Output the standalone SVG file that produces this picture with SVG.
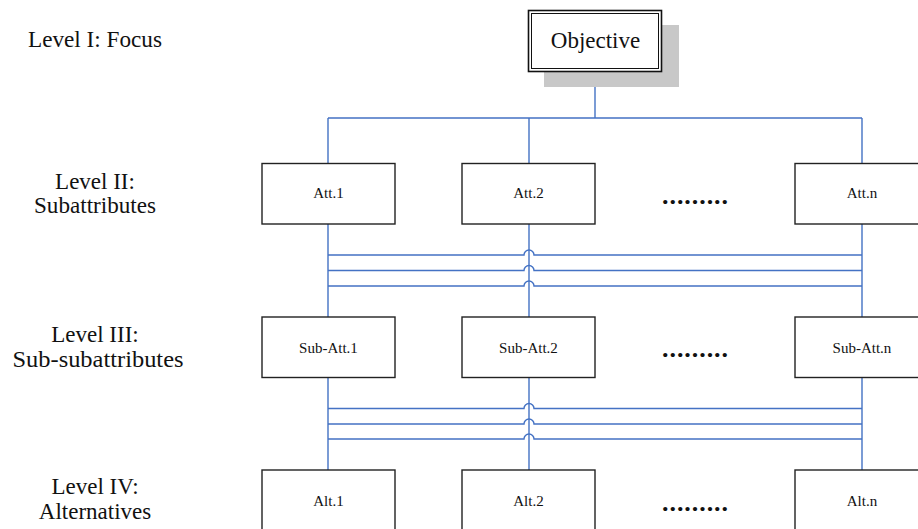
<svg xmlns="http://www.w3.org/2000/svg" width="918" height="529" viewBox="0 0 918 529" font-family="Liberation Serif, Times New Roman, serif">
  <style>
    text { fill: #111; }
    .lvl { font-size: 23px; text-anchor: middle; }
    .box { fill: #fff; stroke: #222; stroke-width: 1.4; }
    .lbl { font-size: 15px; text-anchor: middle; }
    .dots { font-size: 26px; font-weight: bold; }
    .wire { fill: none; stroke: #4472c4; stroke-width: 1.4; }
  </style>

  <rect width="918" height="529" fill="#fff"/>

  <!-- level captions -->
  <g id="level-captions">
    <text class="lvl" x="95" y="47" textLength="134" lengthAdjust="spacingAndGlyphs">Level I: Focus</text>
    <text class="lvl" x="95" y="189">Level II:</text>
    <text class="lvl" x="95" y="213" textLength="122" lengthAdjust="spacingAndGlyphs">Subattributes</text>
    <text class="lvl" x="95" y="342">Level III:</text>
    <text class="lvl" x="98" y="367" textLength="171" lengthAdjust="spacingAndGlyphs">Sub-subattributes</text>
    <text class="lvl" x="95" y="494">Level IV:</text>
    <text class="lvl" x="95" y="519">Alternatives</text>
  </g>

  <!-- connectors -->
  <g id="connectors">
    <!-- objective to subattributes -->
    <path class="wire" d="M595 72 V118 M328 118 H862 M328 118 V163 M529 118 V163 M862 118 V163"/>
    <!-- subattributes to sub-subattributes -->
    <path class="wire" d="M328 224 V317 M529 224 V317 M862 224 V317"/>
    <path class="wire" d="M328 255 H524 A5 5 0 0 1 534 255 H862
                          M328 270.5 H524 A5 5 0 0 1 534 270.5 H862
                          M328 286 H524 A5 5 0 0 1 534 286 H862"/>
    <!-- sub-subattributes to alternatives -->
    <path class="wire" d="M328 378 V470 M529 378 V470 M862 378 V470"/>
    <path class="wire" d="M328 408.5 H524 A5 5 0 0 1 534 408.5 H862
                          M328 424 H524 A5 5 0 0 1 534 424 H862
                          M328 439 H524 A5 5 0 0 1 534 439 H862"/>
  </g>

  <!-- Level I -->
  <g id="objective">
    <rect x="544" y="25" width="135" height="62" fill="#c8c8c8"/>
    <rect x="528.5" y="10.5" width="133" height="61" fill="#fff" stroke="#111" stroke-width="1.6"/>
    <rect x="531.5" y="13.5" width="127" height="55" fill="none" stroke="#111" stroke-width="1"/>
    <text x="595.5" y="48" font-size="23" text-anchor="middle">Objective</text>
  </g>

  <!-- Level II -->
  <g id="att-1">
    <rect class="box" x="262" y="163.5" width="133" height="60.5"/>
    <text class="lbl" x="328.5" y="198">Att.1</text>
  </g>
  <g id="att-2">
    <rect class="box" x="462" y="163.5" width="133" height="60.5"/>
    <text class="lbl" x="528.5" y="198">Att.2</text>
  </g>
  <g id="att-dots">
    <text class="dots" x="662" y="204" textLength="66" lengthAdjust="spacing">.........</text>
  </g>
  <g id="att-n">
    <rect class="box" x="795" y="163.5" width="133" height="60.5"/>
    <text class="lbl" x="862" y="198">Att.n</text>
  </g>

  <!-- Level III -->
  <g id="sub-att-1">
    <rect class="box" x="262" y="317" width="133" height="60.5"/>
    <text class="lbl" x="328.5" y="352.5">Sub-Att.1</text>
  </g>
  <g id="sub-att-2">
    <rect class="box" x="462" y="317" width="133" height="60.5"/>
    <text class="lbl" x="528.5" y="352.5">Sub-Att.2</text>
  </g>
  <g id="sub-att-dots">
    <text class="dots" x="662" y="357" textLength="66" lengthAdjust="spacing">.........</text>
  </g>
  <g id="sub-att-n">
    <rect class="box" x="795" y="317" width="133" height="60.5"/>
    <text class="lbl" x="862" y="352.5">Sub-Att.n</text>
  </g>

  <!-- Level IV -->
  <g id="alt-1">
    <rect class="box" x="262" y="470" width="133" height="70"/>
    <text class="lbl" x="328.5" y="506">Alt.1</text>
  </g>
  <g id="alt-2">
    <rect class="box" x="462" y="470" width="133" height="70"/>
    <text class="lbl" x="528.5" y="506">Alt.2</text>
  </g>
  <g id="alt-dots">
    <text class="dots" x="662" y="511" textLength="66" lengthAdjust="spacing">.........</text>
  </g>
  <g id="alt-n">
    <rect class="box" x="795" y="470" width="133" height="70"/>
    <text class="lbl" x="862" y="506">Alt.n</text>
  </g>
</svg>
